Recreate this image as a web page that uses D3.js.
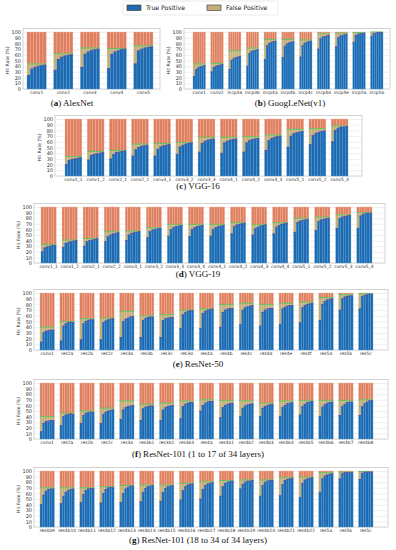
<!DOCTYPE html>
<html>
<head>
<meta charset="utf-8">
<script src="https://cdn.jsdelivr.net/npm/d3@7"></script>
<style>
  body { margin: 0; background: #fff; }
  svg { display: block; }
  .tick text { font-family: "DejaVu Sans", sans-serif; fill: #333; }
  .caption { font-family: "Liberation Serif", serif; font-size: 9px; fill: #111; }
</style>
</head>
<body>
<svg id="svg1" width="396" height="550"></svg>
<script>
// ---- data: one small set of arrays per network ----
// tp = true positive hit rate for each sub-bar of a layer, top = true + false positive
const alexLayers = ["conv1", "conv2", "conv3", "conv4", "conv5"];
const alexTP = [
  [24, 35, 38, 40, 41, 42], [33, 52, 56, 58, 59, 60], [38, 61, 65, 68, 69, 70],
  [36, 61, 65, 67, 69, 70], [44, 67, 70, 72, 73, 74]];
const alexTop = [44, 62, 72, 71, 76];

const googLayers = ["conv1", "conv2", "incp3a", "incp3b", "incp4a", "incp4b", "incp4c", "incp4d", "incp4e", "incp5a", "incp5b"];
const googTP = [
  [22, 34, 37, 39, 40, 41], [30, 38, 40, 41, 42, 43], [34, 50, 53, 55, 56, 57],
  [40, 62, 66, 67, 68, 69], [52, 76, 80, 82, 83, 84], [55, 75, 79, 81, 82, 83],
  [56, 76, 80, 82, 83, 84], [70, 88, 91, 92, 93, 94], [74, 90, 93, 94, 95, 96],
  [82, 94, 96, 97, 97, 98], [92, 97, 98, 99, 99, 99]];
const googTop = [44, 45, 67, 72, 87, 87, 86, 97, 98, 99, 100];

const vgg16Layers = ["conv1_1", "conv1_2", "conv2_1", "conv2_2", "conv3_1", "conv3_2", "conv3_3", "conv4_1", "conv4_2", "conv4_3", "conv5_1", "conv5_2", "conv5_3"];
const vgg16TP = [
  [20, 27, 29, 30, 31, 32], [28, 36, 38, 39, 40, 41], [30, 38, 41, 42, 43, 44],
  [35, 46, 50, 52, 53, 54], [35, 47, 51, 53, 54, 55], [38, 51, 54, 56, 57, 58],
  [42, 57, 61, 63, 64, 65], [40, 58, 61, 63, 64, 65], [42, 58, 62, 64, 65, 66],
  [45, 62, 66, 68, 69, 70], [50, 70, 74, 76, 77, 78], [55, 71, 75, 77, 78, 79],
  [60, 80, 84, 86, 86, 87]];
const vgg16Top = [34, 43, 45, 56, 57, 59, 68, 68, 69, 72, 82, 83, 88];

const vgg19Layers = ["conv1_1", "conv1_2", "conv2_1", "conv2_2", "conv3_1", "conv3_2", "conv3_3", "conv3_4", "conv4_1", "conv4_2", "conv4_3", "conv4_4", "conv5_1", "conv5_2", "conv5_3", "conv5_4"];
const vgg19TP = [
  [20, 27, 29, 30, 31, 31], [28, 35, 37, 38, 39, 40], [30, 38, 40, 41, 42, 43],
  [38, 47, 50, 52, 53, 54], [40, 50, 53, 54, 55, 56], [45, 56, 59, 60, 61, 62],
  [48, 60, 63, 65, 66, 67], [47, 60, 63, 65, 66, 67], [48, 60, 63, 65, 66, 67],
  [52, 65, 68, 69, 70, 71], [50, 61, 64, 66, 67, 68], [52, 64, 67, 69, 70, 71],
  [55, 72, 75, 76, 77, 78], [58, 74, 77, 78, 79, 80], [62, 79, 82, 83, 84, 85],
  [62, 84, 87, 88, 89, 89]];
const vgg19Top = [33, 41, 44, 56, 57, 63, 69, 69, 69, 72, 69, 72, 80, 82, 86, 90];

const res50Layers = ["conv1", "res2a", "res2b", "res2c", "res3a", "res3b", "res3c", "res3d", "res4a", "res4b", "res4c", "res4d", "res4e", "res4f", "res5a", "res5b", "res5c"];
const res50TP = [
  [14, 30, 33, 34, 35, 35], [16, 42, 46, 48, 49, 48], [18, 46, 50, 52, 53, 53],
  [18, 48, 51, 53, 54, 55], [22, 50, 54, 56, 58, 59], [22, 52, 55, 57, 58, 58],
  [22, 52, 55, 56, 57, 57], [38, 62, 66, 68, 69, 69], [38, 64, 68, 70, 71, 72],
  [40, 66, 70, 72, 73, 73], [45, 70, 74, 76, 77, 78], [42, 66, 70, 72, 73, 73],
  [45, 72, 75, 77, 78, 78], [48, 74, 78, 80, 81, 82], [52, 80, 85, 88, 89, 90],
  [70, 90, 93, 94, 95, 95], [72, 94, 96, 97, 98, 98]];
const res50Top = [40, 50, 55, 56, 68, 60, 62, 70, 72, 80, 82, 80, 82, 84, 92, 97, 99];

const res101aLayers = ["conv1", "res2a", "res2b", "res2c", "res3a", "res3b1", "res3b2", "res3b3", "res4a", "res4b1", "res4b2", "res4b3", "res4b4", "res4b5", "res4b6", "res4b7", "res4b8"];
const res101aTP = [
  [13, 28, 31, 32, 33, 33], [24, 40, 43, 44, 45, 44], [28, 42, 46, 47, 48, 48],
  [28, 44, 48, 50, 51, 52], [35, 52, 56, 58, 59, 60], [33, 54, 57, 58, 59, 59],
  [33, 52, 56, 58, 59, 60], [36, 58, 62, 64, 65, 65], [50, 60, 64, 66, 67, 67],
  [38, 56, 60, 62, 63, 64], [40, 55, 59, 61, 62, 63], [40, 55, 58, 60, 61, 62],
  [40, 56, 60, 63, 64, 65], [43, 58, 62, 65, 66, 67], [40, 57, 61, 64, 65, 66],
  [42, 58, 62, 65, 66, 66], [42, 58, 63, 66, 68, 69]];
const res101aTop = [40, 46, 50, 55, 68, 62, 64, 68, 70, 69, 68, 64, 68, 69, 69, 69, 70];

const res101bLayers = ["res4b9", "res4b10", "res4b11", "res4b12", "res4b13", "res4b14", "res4b15", "res4b16", "res4b17", "res4b18", "res4b19", "res4b20", "res4b21", "res4b22", "res5a", "res5b", "res5c"];
const res101bTP = [
  [40, 57, 64, 67, 68, 68], [42, 55, 62, 65, 67, 68], [44, 58, 65, 68, 69, 69],
  [43, 60, 67, 70, 71, 71], [44, 60, 68, 71, 73, 73], [45, 62, 69, 72, 73, 74],
  [46, 62, 69, 72, 73, 74], [48, 65, 72, 75, 76, 77], [50, 67, 74, 77, 78, 79],
  [55, 72, 78, 80, 81, 82], [68, 76, 80, 82, 82, 83], [55, 74, 80, 82, 83, 83],
  [56, 76, 83, 85, 86, 87], [53, 78, 84, 86, 87, 88], [62, 86, 91, 93, 94, 95],
  [86, 95, 97, 97, 97, 97], [85, 96, 98, 98, 98, 98]];
const res101bTop = [70, 70, 70, 72, 74, 75, 75, 78, 81, 83, 84, 84, 88, 89, 97, 98, 99];

const yTicks = [0, 10, 20, 30, 40, 50, 60, 70, 80, 90, 100];

// colours
const cBlue = "#2068b0", cTan = "#c4ae7a", cRed = "#de7f60", cGreen = "#5fbf5f", cEdge = "#5a4aa8";

// panel layout: box edges, bar range, caption
const panels = [
  { letter: "a", title: " AlexNet", layers: alexLayers, tp: alexTP, top: alexTop,
    bx0: 23, bx1: 160, r0: 27, r1: 153, pad: 0.28, y100: 32, y0: 89, cx: 72, cy: 106 },
  { letter: "b", title: " GoogLeNet(v1)", layers: googLayers, tp: googTP, top: googTop,
    bx0: 184, bx1: 390, r0: 193, r1: 383, pad: 0.3, y100: 32, y0: 89, cx: 290, cy: 106 },
  { letter: "c", title: " VGG-16", layers: vgg16Layers, tp: vgg16TP, top: vgg16Top,
    bx0: 55, bx1: 362, r0: 65, r1: 348, pad: 0.24, y100: 119, y0: 176, cx: 198, cy: 189 },
  { letter: "d", title: " VGG-19", layers: vgg19Layers, tp: vgg19TP, top: vgg19Top,
    bx0: 34, bx1: 385, r0: 41, r1: 372, pad: 0.28, y100: 207, y0: 263, cx: 198, cy: 277 },
  { letter: "e", title: " ResNet-50", layers: res50Layers, tp: res50TP, top: res50Top,
    bx0: 34, bx1: 388, r0: 40, r1: 373, pad: 0.28, y100: 293, y0: 350, cx: 198, cy: 367 },
  { letter: "f", title: " ResNet-101 (1 to 17 of 34 layers)", layers: res101aLayers, tp: res101aTP, top: res101aTop,
    bx0: 34, bx1: 388, r0: 40, r1: 373, pad: 0.28, y100: 383, y0: 439, cx: 198, cy: 457 },
  { letter: "g", title: " ResNet-101 (18 to 34 of 34 layers)", layers: res101bLayers, tp: res101bTP, top: res101bTop,
    bx0: 34, bx1: 388, r0: 40, r1: 373, pad: 0.28, y100: 471, y0: 527, cx: 198, cy: 543 }
];

const svg = d3.select("#svg1");

panels.forEach((p) => {
  const g = svg.append("g");
  const y = d3.scaleLinear().domain([0, 100]).range([p.y0, p.y100]);
  const x = d3.scaleBand().domain(p.layers).range([p.r0, p.r1]).paddingInner(p.pad).paddingOuter(0);
  const boxTop = y(100) - 3.5;

  // box + grid
  g.append("rect")
    .attr("x", p.bx0).attr("y", boxTop)
    .attr("width", p.bx1 - p.bx0).attr("height", p.y0 - boxTop)
    .attr("fill", "#fff").attr("stroke", "#c8c8c8").attr("stroke-width", 0.8);

  const yAxis = g.append("g")
    .attr("transform", "translate(" + p.bx0 + ",0)")
    .call(d3.axisLeft(y).tickValues(yTicks).tickSize(-(p.bx1 - p.bx0)).tickPadding(2));
  yAxis.select(".domain").remove();
  yAxis.selectAll(".tick line").attr("stroke", "#e4e4e4").attr("stroke-width", 0.6);
  yAxis.selectAll(".tick text").style("font-size", "5px");

  g.append("text")
    .attr("transform", "translate(" + (p.bx0 - 14) + "," + ((p.y0 + p.y100) / 2) + ") rotate(-90)")
    .attr("text-anchor", "middle")
    .style("font-family", "DejaVu Sans, sans-serif")
    .style("font-size", "4.6px").style("fill", "#333")
    .text("Hit Rate (%)");

  // bars: each layer split into sub-bars
  p.layers.forEach((name, i) => {
    const vals = p.tp[i];
    const n = vals.length;
    const w = x.bandwidth() / n;
    const tops = vals.map((v) => Math.max(v, p.top[i]));
    const gg = g.append("g");

    gg.selectAll("rect.miss").data(vals).enter().append("rect")
      .attr("x", (d, j) => x(name) + j * w).attr("width", w)
      .attr("y", y(100)).attr("height", (d, j) => y(tops[j]) - y(100))
      .attr("fill", cRed).attr("stroke", "#f0b7a0").attr("stroke-width", 0.35);

    gg.selectAll("rect.fp").data(vals).enter().append("rect")
      .attr("x", (d, j) => x(name) + j * w).attr("width", w)
      .attr("y", (d, j) => y(tops[j])).attr("height", (d, j) => y(d) - y(tops[j]))
      .attr("fill", cTan).attr("stroke", "#d8caa0").attr("stroke-width", 0.35);

    gg.selectAll("rect.tp").data(vals).enter().append("rect")
      .attr("x", (d, j) => x(name) + j * w).attr("width", w)
      .attr("y", (d) => y(d)).attr("height", (d) => y(0) - y(d))
      .attr("fill", cBlue).attr("stroke", "#4aa3d6").attr("stroke-width", 0.35);

    gg.selectAll("rect.green").data(vals).enter().append("rect")
      .attr("x", (d, j) => x(name) + j * w).attr("width", w)
      .attr("y", (d, j) => y(tops[j]) - 0.5).attr("height", 1)
      .attr("fill", cGreen);

    gg.selectAll("rect.edge").data(vals).enter().append("rect")
      .attr("x", (d, j) => x(name) + j * w).attr("width", w)
      .attr("y", (d) => y(d) - 0.4).attr("height", 0.9)
      .attr("fill", cEdge);
  });

  const xAxis = g.append("g")
    .attr("transform", "translate(0," + p.y0 + ")")
    .call(d3.axisBottom(x).tickSize(0).tickPadding(1.8));
  xAxis.select(".domain").remove();
  xAxis.selectAll(".tick text").style("font-size", "4.4px");

  const cap = g.append("text").attr("class", "caption")
    .attr("x", p.cx).attr("y", p.cy).attr("text-anchor", "middle");
  cap.append("tspan").text("(");
  cap.append("tspan").style("font-weight", "bold").text(p.letter);
  cap.append("tspan").text(")" + p.title);
});

// legend
const legend = svg.append("g");
legend.append("rect").attr("x", 123).attr("y", 1).attr("width", 155).attr("height", 14)
  .attr("fill", "#fff").attr("stroke", "#dddddd").attr("stroke-width", 0.6).attr("rx", 1.5);
const legendItems = [
  { label: "True Positive", color: cBlue, x: 127 },
  { label: "False Positive", color: cTan, x: 207 }
];
legendItems.forEach((d) => {
  legend.append("rect").attr("x", d.x).attr("y", 5).attr("width", 14).attr("height", 5.5)
    .attr("fill", d.color).attr("stroke", "#333").attr("stroke-width", 0.6);
  legend.append("text").attr("x", d.x + 19).attr("y", 10.2)
    .style("font-family", "DejaVu Sans, sans-serif").style("font-size", "6.2px").style("fill", "#222")
    .text(d.label);
});
</script>
</body>
</html>
